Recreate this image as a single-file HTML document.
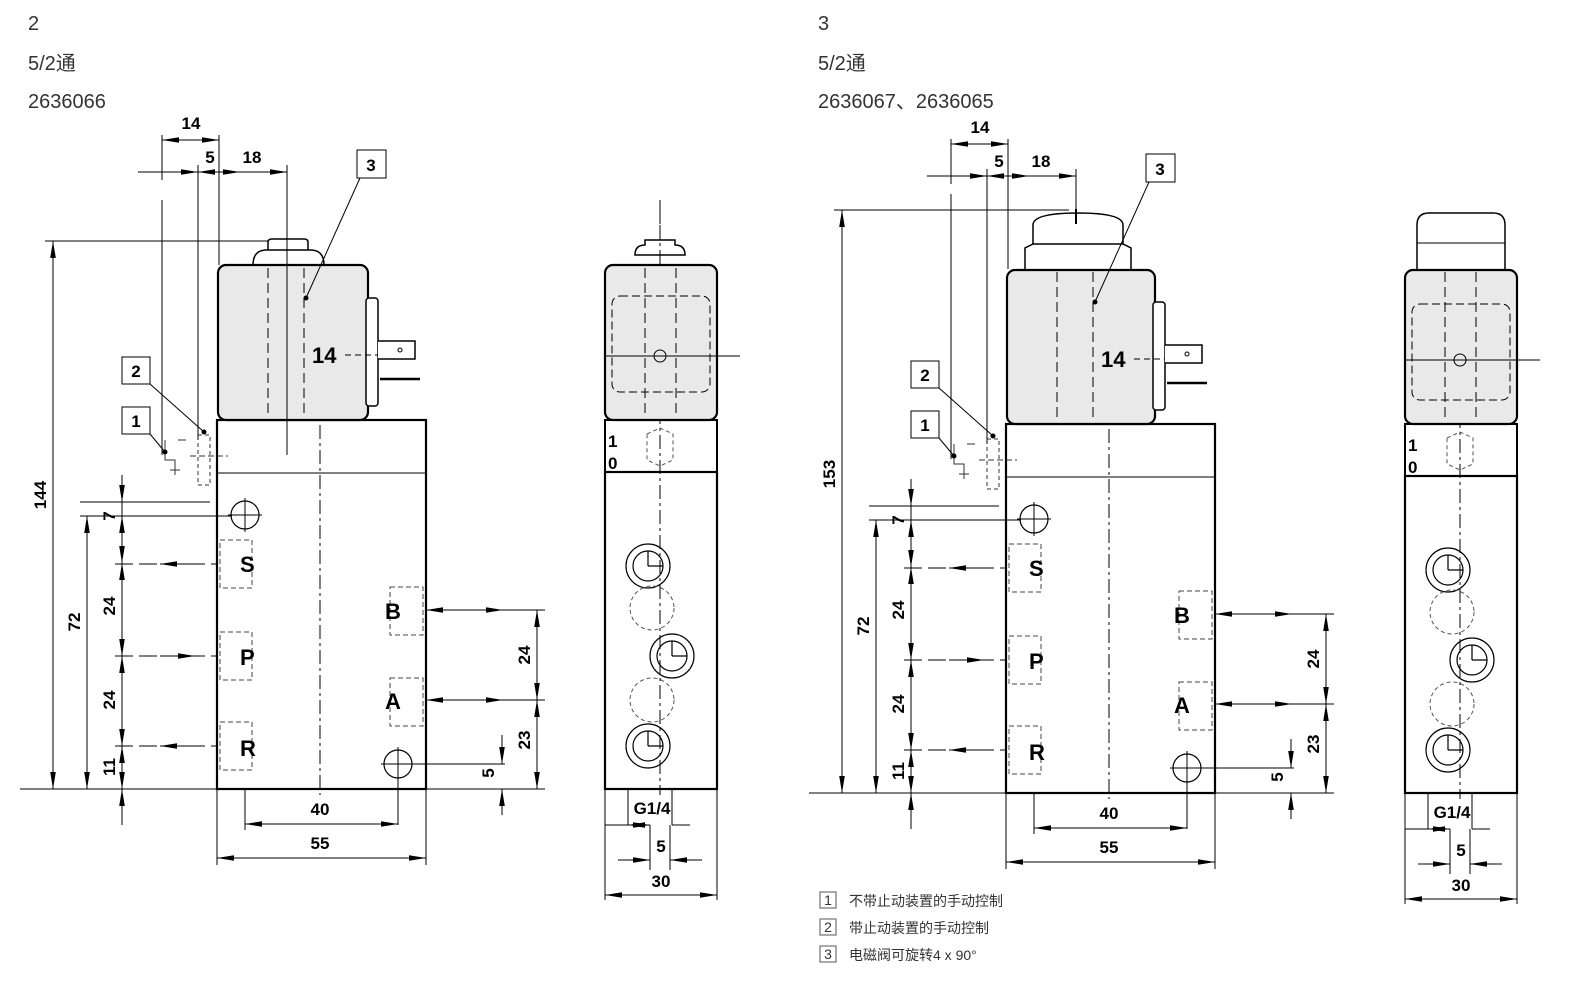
<!DOCTYPE html>
<html><head><meta charset="utf-8"><style>
html,body{margin:0;padding:0;background:#fff;}
svg{display:block;}
.t{font-family:"Liberation Sans","Noto Sans CJK SC",sans-serif;}
.b{font-family:"Liberation Sans",sans-serif;font-weight:bold;}
</style></head><body>
<svg width="1572" height="981" viewBox="0 0 1572 981" xmlns="http://www.w3.org/2000/svg">
<defs>
<marker id="ar" viewBox="0 0 10 10" refX="10" refY="5" markerWidth="17" markerHeight="7" orient="auto-start-reverse" markerUnits="userSpaceOnUse" preserveAspectRatio="none"><path d="M0,1 L10,5 L0,9Z" fill="#000"/></marker>
<g id="front" fill="none" stroke="#000">
 <rect x="217" y="420" width="209" height="369" stroke-width="2.2" fill="#fff"/>
 <line x1="217" y1="473" x2="426" y2="473" stroke-width="1"/>
 <line x1="320" y1="425" x2="320" y2="795" stroke-width="1" stroke-dasharray="14,4,3,4"/>
 <g stroke-width="1" stroke-dasharray="5,3" stroke="#444">
  <rect x="220" y="540" width="32" height="48"/><rect x="220" y="632" width="32" height="48"/><rect x="220" y="722" width="32" height="48"/>
  <rect x="390" y="587" width="33" height="48"/><rect x="390" y="678" width="33" height="48"/>
 </g>
 <circle cx="245" cy="515" r="14" stroke-width="1.2"/><line x1="228" y1="515" x2="262" y2="515" stroke-width="1"/><line x1="245" y1="498" x2="245" y2="532" stroke-width="1"/>
 <circle cx="398" cy="764" r="14" stroke-width="1.2"/><line x1="381" y1="764" x2="505" y2="764" stroke-width="1"/><line x1="398" y1="747" x2="398" y2="825" stroke-width="1"/>
 <g stroke-width="1" stroke="#333"><path d="M165,440 v20 h10 v15 M178,440 h8 M170,470 h10"/><path d="M198,435 h12 v50 h-12z" stroke-dasharray="4,3"/><line x1="190" y1="456" x2="228" y2="456" stroke-dasharray="6,3"/></g>
</g>
<g id="side" fill="none" stroke="#000">
 <rect x="605" y="420" width="112" height="52" stroke-width="2" fill="#fff"/>
 <rect x="605" y="472" width="112" height="317" stroke-width="2.2" fill="#fff"/>
 <line x1="660" y1="210" x2="660" y2="795" stroke-width="1" stroke-dasharray="14,4,3,4"/>
 <g stroke-width="1.2">
  <circle cx="648" cy="566" r="22"/><circle cx="648" cy="566" r="15"/><path d="M648,566 V551 M648,566 H663"/>
  <circle cx="672" cy="656" r="22"/><circle cx="672" cy="656" r="15"/><path d="M672,656 V641 M672,656 H687"/>
  <circle cx="648" cy="746" r="22"/><circle cx="648" cy="746" r="15"/><path d="M648,746 V731 M648,746 H663"/>
 </g>
 <g stroke-width="1" stroke-dasharray="4,3" stroke="#555"><circle cx="652" cy="608" r="22"/><circle cx="652" cy="700" r="22"/><path d="M647,434 l13,-6 13,6 v26 l-13,6 -13,-6z"/></g>
 <g stroke-width="1"><line x1="628" y1="789" x2="628" y2="825"/><line x1="672" y1="789" x2="672" y2="825"/><line x1="650" y1="825" x2="650" y2="870"/><line x1="670" y1="825" x2="670" y2="870"/><line x1="605" y1="789" x2="605" y2="900"/><line x1="717" y1="789" x2="717" y2="900"/></g>
</g>
</defs>

<text x="28" y="30" class="t" font-size="20" fill="#333">2</text>
<text x="28" y="70" class="t" font-size="20" fill="#333">5/2通</text>
<text x="28" y="108" class="t" font-size="20" fill="#333">2636066</text>

<use href="#front"/>
<g fill="none" stroke="#000">
 <path d="M268,250 v-8 q0,-3 4,-3 h32 q4,0 4,3 v8" stroke-width="1.5" fill="#fff"/>
 <path d="M253,265 q0,-14 12,-15 h47 q12,1 12,15" stroke-width="1.5" fill="#fff"/>
 <rect x="218" y="265" width="150" height="155" rx="8" fill="#e9e9e9" stroke-width="2.2"/>
 <line x1="268" y1="268" x2="268" y2="418" stroke-dasharray="10,5"/><line x1="304" y1="268" x2="304" y2="418" stroke-dasharray="10,5"/>
 <rect x="366" y="298" width="12" height="108" rx="3" stroke-width="1.5" fill="#fff"/>
 <path d="M378,341 h37 v18 h-37" stroke-width="1.5" fill="#fff"/><circle cx="400" cy="350" r="2"/>
 <line x1="380" y1="379" x2="420" y2="379" stroke-width="2.5"/>
 <line x1="345" y1="355" x2="378" y2="355" stroke-dasharray="6,4"/>
</g>
<text x="312" y="363" class="b" font-size="22">14</text>
<g class="b" font-size="22"><text x="240" y="572">S</text><text x="240" y="665">P</text><text x="240" y="756">R</text><text x="385" y="619">B</text><text x="385" y="709">A</text></g>
<use href="#side"/>
<g fill="none" stroke="#000">
 <path d="M635,255 q0,-10 10,-10 v-5 h30 v5 q10,0 10,10z" stroke-width="1.5" fill="#fff"/>
 <rect x="605" y="265" width="112" height="155" rx="8" fill="#e9e9e9" stroke-width="2.2"/>
 <rect x="612" y="296" width="98" height="96" rx="8" stroke-dasharray="8,4"/>
 <line x1="645" y1="268" x2="645" y2="418" stroke-dasharray="10,5"/><line x1="676" y1="268" x2="676" y2="418" stroke-dasharray="10,5"/>
 <line x1="605" y1="356" x2="740" y2="356"/><circle cx="660" cy="356" r="6"/>
 <line x1="660" y1="200" x2="660" y2="260" stroke-dasharray="14,4,3,4"/>
</g>
<g class="b" font-size="17"><text x="608" y="447">1</text><text x="608" y="469">0</text></g>
<g stroke="#000" stroke-width="1" fill="none">
 <line x1="45" y1="241" x2="268" y2="241"/><line x1="20" y1="789" x2="217" y2="789"/>
 <line x1="53" y1="241" x2="53" y2="789" marker-start="url(#ar)" marker-end="url(#ar)"/>
 <line x1="80" y1="516" x2="232" y2="516"/><line x1="80" y1="502" x2="210" y2="502"/>
 <line x1="87" y1="516" x2="87" y2="789" marker-start="url(#ar)" marker-end="url(#ar)"/>
 <line x1="122" y1="475" x2="122" y2="825"/>
 <g marker-end="url(#ar)"><line x1="122" y1="480" x2="122" y2="502"/><line x1="122" y1="540" x2="122" y2="516"/><line x1="122" y1="540" x2="122" y2="563"/><line x1="122" y1="610" x2="122" y2="563"/><line x1="122" y1="610" x2="122" y2="656"/><line x1="122" y1="700" x2="122" y2="656"/><line x1="122" y1="700" x2="122" y2="746"/><line x1="122" y1="767" x2="122" y2="746"/><line x1="122" y1="767" x2="122" y2="789"/><line x1="122" y1="820" x2="122" y2="789"/></g>
 <g stroke-dasharray="18,6"><line x1="115" y1="564" x2="217" y2="564"/><line x1="115" y1="656" x2="217" y2="656"/><line x1="115" y1="746" x2="217" y2="746"/></g>
 <line x1="195" y1="564" x2="160" y2="564" marker-end="url(#ar)"/><line x1="160" y1="656" x2="195" y2="656" marker-end="url(#ar)"/><line x1="195" y1="746" x2="160" y2="746" marker-end="url(#ar)"/>
 <line x1="426" y1="610" x2="545" y2="610"/><line x1="426" y1="700" x2="545" y2="700"/><line x1="426" y1="789" x2="545" y2="789"/>
 <line x1="426" y1="610" x2="465" y2="610" marker-start="url(#ar)"/><line x1="465" y1="610" x2="503" y2="610" marker-end="url(#ar)"/>
 <line x1="426" y1="700" x2="465" y2="700" marker-start="url(#ar)"/><line x1="465" y1="700" x2="503" y2="700" marker-end="url(#ar)"/>
 <line x1="537" y1="610" x2="537" y2="700" marker-start="url(#ar)" marker-end="url(#ar)"/>
 <line x1="537" y1="700" x2="537" y2="789" marker-start="url(#ar)" marker-end="url(#ar)"/>
 <line x1="502" y1="735" x2="502" y2="764" marker-end="url(#ar)"/><line x1="502" y1="815" x2="502" y2="789" marker-end="url(#ar)"/>
 <line x1="217" y1="789" x2="217" y2="865"/><line x1="426" y1="789" x2="426" y2="865"/><line x1="245" y1="789" x2="245" y2="830"/>
 <line x1="245" y1="824" x2="398" y2="824" marker-start="url(#ar)" marker-end="url(#ar)"/>
 <line x1="217" y1="858" x2="426" y2="858" marker-start="url(#ar)" marker-end="url(#ar)"/>
 <line x1="605" y1="825" x2="650" y2="825"/><line x1="628" y1="825" x2="650" y2="825" marker-start="url(#ar)" marker-end="url(#ar)"/><line x1="672" y1="825" x2="690" y2="825"/>
 <line x1="618" y1="860" x2="650" y2="860" marker-end="url(#ar)"/><line x1="702" y1="860" x2="670" y2="860" marker-end="url(#ar)"/>
 <line x1="605" y1="895" x2="717" y2="895" marker-start="url(#ar)" marker-end="url(#ar)"/>
 <line x1="162" y1="135" x2="162" y2="180"/><line x1="162" y1="200" x2="162" y2="455"/><line x1="219" y1="135" x2="219" y2="265"/><line x1="198" y1="165" x2="198" y2="440"/><line x1="287" y1="165" x2="287" y2="455"/>
 <line x1="162" y1="140" x2="219" y2="140" marker-start="url(#ar)" marker-end="url(#ar)"/>
 <line x1="138" y1="172" x2="198" y2="172" marker-end="url(#ar)"/><line x1="198" y1="172" x2="240" y2="172" marker-start="url(#ar)" marker-end="url(#ar)"/><line x1="240" y1="172" x2="287" y2="172" marker-end="url(#ar)"/>
 <rect x="357" y="150" width="29" height="28" fill="#fff"/><line x1="360" y1="178" x2="306" y2="298"/><circle cx="306" cy="298" r="2" fill="#000"/>
 <rect x="122" y="357" width="28" height="27" fill="#fff"/><line x1="150" y1="384" x2="204" y2="432"/><circle cx="204" cy="432" r="2" fill="#000"/>
 <rect x="122" y="407" width="28" height="27" fill="#fff"/><line x1="150" y1="434" x2="165" y2="452"/><circle cx="165" cy="452" r="2" fill="#000"/>
</g>
<g class="b" font-size="17">
 <text x="191" y="129" text-anchor="middle">14</text><text x="210" y="163" text-anchor="middle">5</text><text x="252" y="163" text-anchor="middle">18</text>
 <text x="371" y="171" text-anchor="middle">3</text><text x="136" y="377" text-anchor="middle">2</text><text x="136" y="427" text-anchor="middle">1</text>
 <text x="320" y="815" text-anchor="middle">40</text><text x="320" y="849" text-anchor="middle">55</text>
 <text x="652" y="814" text-anchor="middle">G1/4</text><text x="661" y="852" text-anchor="middle">5</text><text x="661" y="887" text-anchor="middle">30</text>
 <text transform="translate(46,495) rotate(-90)" text-anchor="middle">144</text>
 <text transform="translate(80,622) rotate(-90)" text-anchor="middle">72</text>
 <text transform="translate(115,516) rotate(-90)" text-anchor="middle">7</text>
 <text transform="translate(115,606) rotate(-90)" text-anchor="middle">24</text>
 <text transform="translate(115,700) rotate(-90)" text-anchor="middle">24</text>
 <text transform="translate(115,767) rotate(-90)" text-anchor="middle">11</text>
 <text transform="translate(530,655) rotate(-90)" text-anchor="middle">24</text>
 <text transform="translate(530,740) rotate(-90)" text-anchor="middle">23</text>
 <text transform="translate(494,773) rotate(-90)" text-anchor="middle">5</text>
</g>

<text x="818" y="30" class="t" font-size="20" fill="#333">3</text>
<text x="818" y="70" class="t" font-size="20" fill="#333">5/2通</text>
<text x="818" y="108" class="t" font-size="20" fill="#333">2636067、2636065</text>
<g transform="translate(789,4)">
<use href="#front"/>
<g fill="none" stroke="#000">
 <path d="M244,241 v-20 q0,-12 45,-12 q45,0 45,12 v20" stroke-width="1.5" fill="#fff"/>
 <line x1="287" y1="205" x2="287" y2="220" stroke-width="2"/>
 <path d="M236,266 v-22 l8,-4 h90 l8,4 v22" stroke-width="1.5" fill="#fff"/>
 <rect x="218" y="266" width="148" height="154" rx="8" fill="#e9e9e9" stroke-width="2.2"/>
 <line x1="268" y1="268" x2="268" y2="418" stroke-dasharray="10,5"/><line x1="304" y1="268" x2="304" y2="418" stroke-dasharray="10,5"/>
 <rect x="364" y="298" width="12" height="108" rx="3" stroke-width="1.5" fill="#fff"/>
 <path d="M376,341 h37 v18 h-37" stroke-width="1.5" fill="#fff"/><circle cx="398" cy="350" r="2"/>
 <line x1="378" y1="379" x2="418" y2="379" stroke-width="2.5"/>
 <line x1="345" y1="355" x2="376" y2="355" stroke-dasharray="6,4"/>
</g>
<use href="#side" transform="translate(11,0)"/>
<g fill="none" stroke="#000" transform="translate(11,0)">
 <path d="M617,266 v-45 q0,-12 12,-12 h64 q12,0 12,12 v45" stroke-width="1.5" fill="#fff"/>
 <line x1="617" y1="239" x2="705" y2="239"/>
 <rect x="605" y="266" width="112" height="154" rx="8" fill="#e9e9e9" stroke-width="2.2"/>
 <rect x="612" y="300" width="98" height="96" rx="8" stroke-dasharray="8,4"/>
 <line x1="645" y1="268" x2="645" y2="418" stroke-dasharray="10,5"/><line x1="676" y1="268" x2="676" y2="418" stroke-dasharray="10,5"/>
 <line x1="605" y1="356" x2="740" y2="356"/><circle cx="660" cy="356" r="6"/>
</g>
</g>
<g class="b" font-size="22"><text x="1101" y="367">14</text><text x="1029" y="576">S</text><text x="1029" y="669">P</text><text x="1029" y="760">R</text><text x="1174" y="623">B</text><text x="1174" y="713">A</text></g>
<g class="b" font-size="17"><text x="1408" y="451">1</text><text x="1408" y="473">0</text></g>
<g stroke="#000" stroke-width="1" fill="none" transform="translate(789,4)">
 <line x1="45" y1="206" x2="280" y2="206"/><line x1="20" y1="789" x2="217" y2="789"/>
 <line x1="53" y1="206" x2="53" y2="789" marker-start="url(#ar)" marker-end="url(#ar)"/>
 <line x1="80" y1="516" x2="232" y2="516"/><line x1="80" y1="502" x2="210" y2="502"/>
 <line x1="87" y1="516" x2="87" y2="789" marker-start="url(#ar)" marker-end="url(#ar)"/>
 <line x1="122" y1="475" x2="122" y2="825"/>
 <g marker-end="url(#ar)"><line x1="122" y1="480" x2="122" y2="502"/><line x1="122" y1="540" x2="122" y2="516"/><line x1="122" y1="540" x2="122" y2="563"/><line x1="122" y1="610" x2="122" y2="563"/><line x1="122" y1="610" x2="122" y2="656"/><line x1="122" y1="700" x2="122" y2="656"/><line x1="122" y1="700" x2="122" y2="746"/><line x1="122" y1="767" x2="122" y2="746"/><line x1="122" y1="767" x2="122" y2="789"/><line x1="122" y1="820" x2="122" y2="789"/></g>
 <g stroke-dasharray="18,6"><line x1="115" y1="564" x2="217" y2="564"/><line x1="115" y1="656" x2="217" y2="656"/><line x1="115" y1="746" x2="217" y2="746"/></g>
 <line x1="195" y1="564" x2="160" y2="564" marker-end="url(#ar)"/><line x1="160" y1="656" x2="195" y2="656" marker-end="url(#ar)"/><line x1="195" y1="746" x2="160" y2="746" marker-end="url(#ar)"/>
 <line x1="426" y1="610" x2="545" y2="610"/><line x1="426" y1="700" x2="545" y2="700"/><line x1="426" y1="789" x2="545" y2="789"/>
 <line x1="426" y1="610" x2="465" y2="610" marker-start="url(#ar)"/><line x1="465" y1="610" x2="503" y2="610" marker-end="url(#ar)"/>
 <line x1="426" y1="700" x2="465" y2="700" marker-start="url(#ar)"/><line x1="465" y1="700" x2="503" y2="700" marker-end="url(#ar)"/>
 <line x1="537" y1="610" x2="537" y2="700" marker-start="url(#ar)" marker-end="url(#ar)"/>
 <line x1="537" y1="700" x2="537" y2="789" marker-start="url(#ar)" marker-end="url(#ar)"/>
 <line x1="502" y1="735" x2="502" y2="764" marker-end="url(#ar)"/><line x1="502" y1="815" x2="502" y2="789" marker-end="url(#ar)"/>
 <line x1="217" y1="789" x2="217" y2="865"/><line x1="426" y1="789" x2="426" y2="865"/><line x1="245" y1="789" x2="245" y2="830"/>
 <line x1="245" y1="824" x2="398" y2="824" marker-start="url(#ar)" marker-end="url(#ar)"/>
 <line x1="217" y1="858" x2="426" y2="858" marker-start="url(#ar)" marker-end="url(#ar)"/>
 <g transform="translate(11,0)">
 <line x1="605" y1="825" x2="650" y2="825"/><line x1="628" y1="825" x2="650" y2="825" marker-start="url(#ar)" marker-end="url(#ar)"/><line x1="672" y1="825" x2="690" y2="825"/>
 <line x1="618" y1="860" x2="650" y2="860" marker-end="url(#ar)"/><line x1="702" y1="860" x2="670" y2="860" marker-end="url(#ar)"/>
 <line x1="605" y1="895" x2="717" y2="895" marker-start="url(#ar)" marker-end="url(#ar)"/>
 </g>
 <line x1="162" y1="135" x2="162" y2="180"/><line x1="162" y1="190" x2="162" y2="455"/><line x1="219" y1="135" x2="219" y2="265"/><line x1="198" y1="165" x2="198" y2="440"/><line x1="287" y1="165" x2="287" y2="205"/>
 <line x1="162" y1="140" x2="219" y2="140" marker-start="url(#ar)" marker-end="url(#ar)"/>
 <line x1="138" y1="172" x2="198" y2="172" marker-end="url(#ar)"/><line x1="198" y1="172" x2="240" y2="172" marker-start="url(#ar)" marker-end="url(#ar)"/><line x1="240" y1="172" x2="287" y2="172" marker-end="url(#ar)"/>
 <rect x="357" y="150" width="29" height="28" fill="#fff"/><line x1="360" y1="178" x2="306" y2="298"/><circle cx="306" cy="298" r="2" fill="#000"/>
 <rect x="122" y="357" width="28" height="27" fill="#fff"/><line x1="150" y1="384" x2="204" y2="432"/><circle cx="204" cy="432" r="2" fill="#000"/>
 <rect x="122" y="407" width="28" height="27" fill="#fff"/><line x1="150" y1="434" x2="165" y2="452"/><circle cx="165" cy="452" r="2" fill="#000"/>
</g>
<g class="b" font-size="17" transform="translate(789,4)">
 <text x="191" y="129" text-anchor="middle">14</text><text x="210" y="163" text-anchor="middle">5</text><text x="252" y="163" text-anchor="middle">18</text>
 <text x="371" y="171" text-anchor="middle">3</text><text x="136" y="377" text-anchor="middle">2</text><text x="136" y="427" text-anchor="middle">1</text>
 <text x="320" y="815" text-anchor="middle">40</text><text x="320" y="849" text-anchor="middle">55</text>
 <text x="663" y="814" text-anchor="middle">G1/4</text><text x="672" y="852" text-anchor="middle">5</text><text x="672" y="887" text-anchor="middle">30</text>
 <text transform="translate(46,470) rotate(-90)" text-anchor="middle">153</text>
 <text transform="translate(80,622) rotate(-90)" text-anchor="middle">72</text>
 <text transform="translate(115,516) rotate(-90)" text-anchor="middle">7</text>
 <text transform="translate(115,606) rotate(-90)" text-anchor="middle">24</text>
 <text transform="translate(115,700) rotate(-90)" text-anchor="middle">24</text>
 <text transform="translate(115,767) rotate(-90)" text-anchor="middle">11</text>
 <text transform="translate(530,655) rotate(-90)" text-anchor="middle">24</text>
 <text transform="translate(530,740) rotate(-90)" text-anchor="middle">23</text>
 <text transform="translate(494,773) rotate(-90)" text-anchor="middle">5</text>
</g>
<g fill="none" stroke="#555" stroke-width="1"><rect x="820" y="892" width="16" height="16"/><rect x="820" y="919" width="16" height="16"/><rect x="820" y="946" width="16" height="16"/></g>
<g class="t" font-size="14" fill="#333">
 <text x="828" y="905" text-anchor="middle">1</text><text x="828" y="932" text-anchor="middle">2</text><text x="828" y="959" text-anchor="middle">3</text>
 <text x="849" y="906">不带止动装置的手动控制</text><text x="849" y="933">带止动装置的手动控制</text><text x="849" y="960">电磁阀可旋转4 x 90°</text>
</g>
</svg>
</body></html>
